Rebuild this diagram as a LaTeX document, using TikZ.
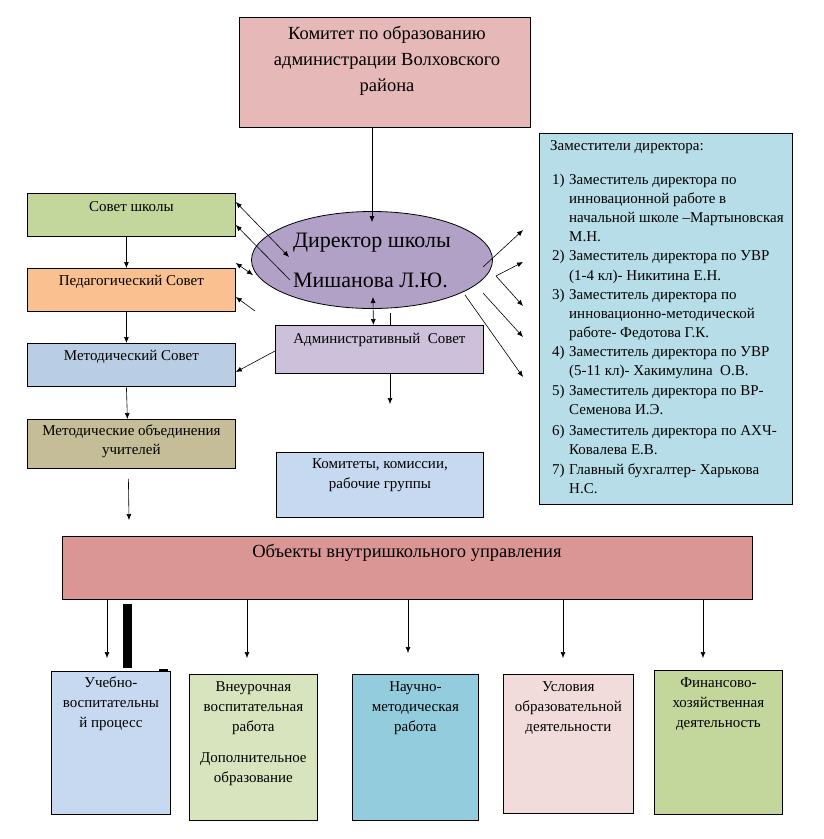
\documentclass[tikz,border=0pt]{standalone}
\usepackage{fontspec}
\setmainfont{Liberation Serif}
\usepackage{tikz}
\usetikzlibrary{calc, arrows.meta, shapes}
\tikzset{>={Latex[length=6pt,width=5pt]}}
\definecolor{komcol}{HTML}{E6B8B7}
\definecolor{dircol}{HTML}{B2A1C7}
\definecolor{sovcol}{HTML}{C3D69B}
\definecolor{pedcol}{HTML}{FAC090}
\definecolor{metcol}{HTML}{B9CDE5}
\definecolor{mocol}{HTML}{C4BD97}
\definecolor{admcol}{HTML}{CCC0DA}
\definecolor{kmscol}{HTML}{C6D9F1}
\definecolor{zamcol}{HTML}{B7DEE8}
\definecolor{objcol}{HTML}{D99694}
\definecolor{uchcol}{HTML}{C6D9F1}
\definecolor{vnecol}{HTML}{D7E4BD}
\definecolor{naucol}{HTML}{93CDDD}
\definecolor{uslcol}{HTML}{F2DCDB}
\definecolor{fincol}{HTML}{C3D69B}

\begin{document}
\begin{tikzpicture}[x=1pt, y=-1pt,
  box/.style={draw, line width=0.8pt, inner sep=0pt, anchor=north west},
  txt/.style={inner sep=0pt, align=center, font=\fontsize{15}{20}\selectfont},
  zl/.style={inner sep=0pt, anchor=base west, font=\fontsize{15}{19}\selectfont},
  link/.style={line width=0.6pt}]
\useasboundingbox (0,0) rectangle (823,839);

% komitet and director
\node[box, fill=komcol, minimum width=291pt, minimum height=110pt] (kom) at (239,17) {};
\node[txt, font=\fontsize{18.5}{26}\selectfont] (kom-t) at (387,61) {Комитет по образованию\\администрации Волховского\\района};
\node[ellipse, draw, line width=0.8pt, fill=dircol, minimum width=241pt, minimum height=97pt,
  inner sep=0pt, align=left, font=\fontsize{22}{40}\selectfont] (dir) at (372,260) {Директор школы\\Мишанова Л.Ю.};
\draw[link, ->] (kom.south -| dir.center) -- ([yshift=-11pt]dir.north);

% left column
\node[box, fill=sovcol, minimum width=208pt, minimum height=43pt] (sovet) at (27,193) {};
\node[txt] (sovet-t) at ([yshift=-14pt]sovet.north) {Совет школы};
\node[box, fill=pedcol, minimum width=208pt, minimum height=43pt] (ped) at (27,268) {};
\node[txt] (ped-t) at ([yshift=-14pt]ped.north) {Педагогический Совет};
\node[box, fill=metcol, minimum width=208pt, minimum height=43pt] (metod) at (27,343) {};
\node[txt] (metod-t) at ([yshift=-14pt]metod.north) {Методический Совет};
\node[box, fill=mocol, minimum width=208pt, minimum height=49pt] (mo) at (27,419) {};
\node[txt, font=\fontsize{15}{19}\selectfont] (mo-t) at ([yshift=-22pt]mo.north) {Методические объединения\\учителей};
\draw[link, ->] ([xshift=-5pt]sovet.south) -- ([xshift=-5pt]ped.north);
\draw[link, ->] ([xshift=-5pt]ped.south) -- ([xshift=-5pt]metod.north);
\draw[link, ->] ([xshift=-5pt]metod.south) -- ([xshift=-4pt]mo.north);
\coordinate (mo-end) at (129,520);
\draw[link, ->] ([xshift=-3pt,yshift=-10pt]mo.south) -- (mo-end);

\draw[link, <->] ([yshift=-9pt]sovet.north east) -- ([shift={(-83,-3)}]dir.center);
\draw[link, <-] ([yshift=-32pt]sovet.north east) -- ([shift={(-82,20)}]dir.center);
\draw[link, <->] ([yshift=5pt]ped.north east) -- ([shift={(-119,15)}]dir.center);
\draw[link, <-] ([yshift=-29pt]ped.north east) -- ([shift={(-117,51)}]dir.center);

% admin and committees
\node[box, fill=admcol, minimum width=208pt, minimum height=48pt] (admin) at (275,325) {};
\node[txt] (admin-t) at ([yshift=-15pt]admin.north) {Административный~~Совет};
\draw[link, <-] ([yshift=-29pt]metod.north east) -- ([yshift=-26pt]admin.north west);
\draw[link, <->] ([shift={(1,37)}]dir.center) -- ([xshift=-6pt]admin.north);
\draw[link] ([xshift=11pt]admin.north) -- ++(0,-12);
\coordinate (adm-end) at (390,404);
\draw[link, ->] (admin.south -| adm-end) -- (adm-end);
\node[box, fill=kmscol, minimum width=207pt, minimum height=65pt] (komis) at (276,452) {};
\node[txt] (komis-t) at ([yshift=-23pt]komis.north) {Комитеты, комиссии,\\рабочие группы};

% deputies
\node[box, fill=zamcol, minimum width=253pt, minimum height=371pt] (zam) at (539,133) {};
\node[zl] (zam-t) at (550,150) {Заместители директора:};
\foreach \y/\t [count=\i] in {184/{Заместитель директора по}, 203/{инновационной работе в},
  222/{начальной школе –Мартыновская}, 241/{М.Н.}, 260/{Заместитель директора по УВР},
  280/{(1-4 кл)- Никитина Е.Н.}, 299/{Заместитель директора по}, 318/{инновационно-методической},
  337/{работе- Федотова Г.К.}, 356/{Заместитель директора по УВР}, 375/{(5-11 кл)- Хакимулина~~О.В.},
  395/{Заместитель директора по ВР-}, 414/{Семенова И.Э.}, 435/{Заместитель директора по АХЧ-},
  454/{Ковалева Е.В.}, 474/{Главный бухгалтер- Харькова}, 493/{Н.С.}}
  \node[zl] (zl\i) at (569,\y) {\t};
\foreach \y [count=\i] in {184, 260, 299, 356, 395, 435, 474}
  \node[zl] (zn\i) at (552,\y) {\i)};

\coordinate (t1) at (523,230);
\coordinate (t2) at (523,262);
\coordinate (t3) at (523,306);
\coordinate (t4) at (523,337);
\coordinate (t5) at (523,377);
\coordinate (fork) at ([shift={(124,16)}]dir.center);
\draw[link, ->] ([shift={(111,7)}]dir.center) -- (t1);
\draw[link, ->] (fork) -- (t2);
\draw[link, ->] (fork) -- (t3);
\draw[link, ->] ([shift={(111,33)}]dir.center) -- (t4);
\draw[link, ->] ([shift={(93,35)}]dir.center) -- (t5);

% objects
\node[box, fill=objcol, minimum width=690pt, minimum height=63pt] (obj) at (62,536) {};
\node[txt, font=\fontsize{18.5}{22}\selectfont] (obj-t) at (407,553) {Объекты внутришкольного управления};
\foreach \x/\t [count=\i] in {107/658, 247/658, 408/653, 563/658, 703/658} {
  \coordinate (d\i) at (\x,\t);
  \draw[link, ->] (d\i |- obj.south) -- (d\i);
}
\fill (123,604) rectangle (132,668);
\fill (159,669) rectangle (168,671.5);

\node[box, fill=uchcol, minimum width=119pt, minimum height=143pt] (ucheb) at (51,671) {};
\node[txt, anchor=north] (ucheb-t) at ([yshift=-6pt]ucheb.north) {Учебно-\\воспитательны\\й процесс};
\node[box, fill=vnecol, minimum width=128pt, minimum height=146pt] (vneur) at (189,674) {};
\node[txt, anchor=north] (vneur-t) at ([yshift=-7pt]vneur.north) {Внеурочная\\воспитательная\\работа\\[11pt]Дополнительное\\образование};
\node[box, fill=naucol, minimum width=126pt, minimum height=146pt] (nauch) at (352,674) {};
\node[txt, anchor=north] (nauch-t) at ([yshift=-7pt]nauch.north) {Научно-\\методическая\\работа};
\node[box, fill=uslcol, minimum width=130pt, minimum height=139pt] (uslov) at (503,674) {};
\node[txt, anchor=north] (uslov-t) at ([yshift=-7pt]uslov.north) {Условия\\образовательной\\деятельности};
\node[box, fill=fincol, minimum width=128pt, minimum height=144pt] (finans) at (654,670) {};
\node[txt, anchor=north] (finans-t) at ([yshift=-7pt]finans.north) {Финансово-\\хозяйственная\\деятельность};
\end{tikzpicture}
\end{document}
